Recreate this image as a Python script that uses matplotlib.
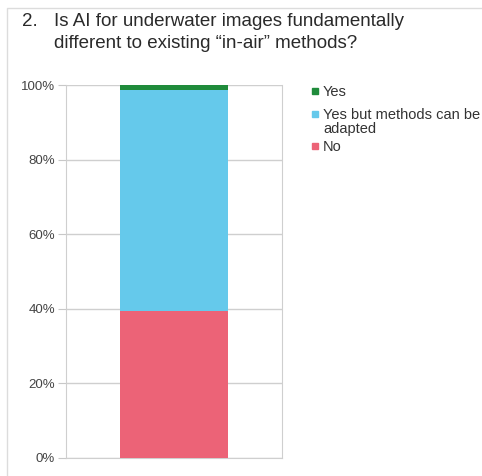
import matplotlib
matplotlib.use("Agg")
import matplotlib.pyplot as plt
from matplotlib.patches import Rectangle

plt.rcParams['font.family'] = ['Liberation Sans', 'DejaVu Sans']

categories = ["No", "Yes but methods can be\nadapted", "Yes"]
values = [39.5, 59.2, 1.3]
colors = ["#ec6377", "#65c9eb", "#1f8b3b"]
yticks = [0, 20, 40, 60, 80, 100]
ytick_labels = ["0%", "20%", "40%", "60%", "80%", "100%"]

W, H = 482, 476
fig = plt.figure(figsize=(W / 100, H / 100), dpi=100)

# light frame around the slide area
fig.add_artist(Rectangle((7 / W, -0.01), 1.0, 1 - 8 / H + 0.01, transform=fig.transFigure,
                         fill=False, edgecolor="#dcdcdc", linewidth=1.0))

fig.text(22 / W, 1 - 22 / H, "2.", fontsize=13.5, color="#2a2a2a", va="center")
fig.text(54 / W, 1 - 22 / H, "Is AI for underwater images fundamentally",
         fontsize=13.5, color="#2a2a2a", va="center")
fig.text(54 / W, 1 - 44 / H, "different to existing \u201cin-air\u201d methods?",
         fontsize=13.5, color="#2a2a2a", va="center")

ax = fig.add_axes([66 / W, 18 / H, 216 / W, 373 / H])
bottom = 0
for cat, v, c in zip(categories, values, colors):
    ax.bar(0, v, width=0.5, bottom=bottom, color=c, label=cat, zorder=3)
    bottom += v

ax.set_xlim(-0.5, 0.5)
ax.set_ylim(0, 100)
ax.set_xticks([])
ax.set_yticks(yticks)
ax.set_yticklabels(ytick_labels)
ax.tick_params(axis="y", length=6, color="#c8c8c8", labelsize=9.5, labelcolor="#444444", pad=2)
ax.grid(axis="y", color="#cfcfcf", linewidth=1.0, zorder=0)
for s in ["left", "right", "bottom"]:
    ax.spines[s].set_color("#cfcfcf")
ax.spines["top"].set_visible(False)

# legend drawn by hand: top series first, square aligned with first text line
leg_y = [91, 114, 146]
for cat, c, y in zip(categories[::-1], colors[::-1], leg_y):
    fig.add_artist(Rectangle((312 / W, 1 - (y + 3) / H), 6 / W, 6 / H,
                             transform=fig.transFigure, color=c))
    fig.text(323 / W, 1 - (y - 6) / H, cat, fontsize=10.5, color="#333333",
             va="top", linespacing=1.0)

fig.savefig("out.png", dpi=100)
